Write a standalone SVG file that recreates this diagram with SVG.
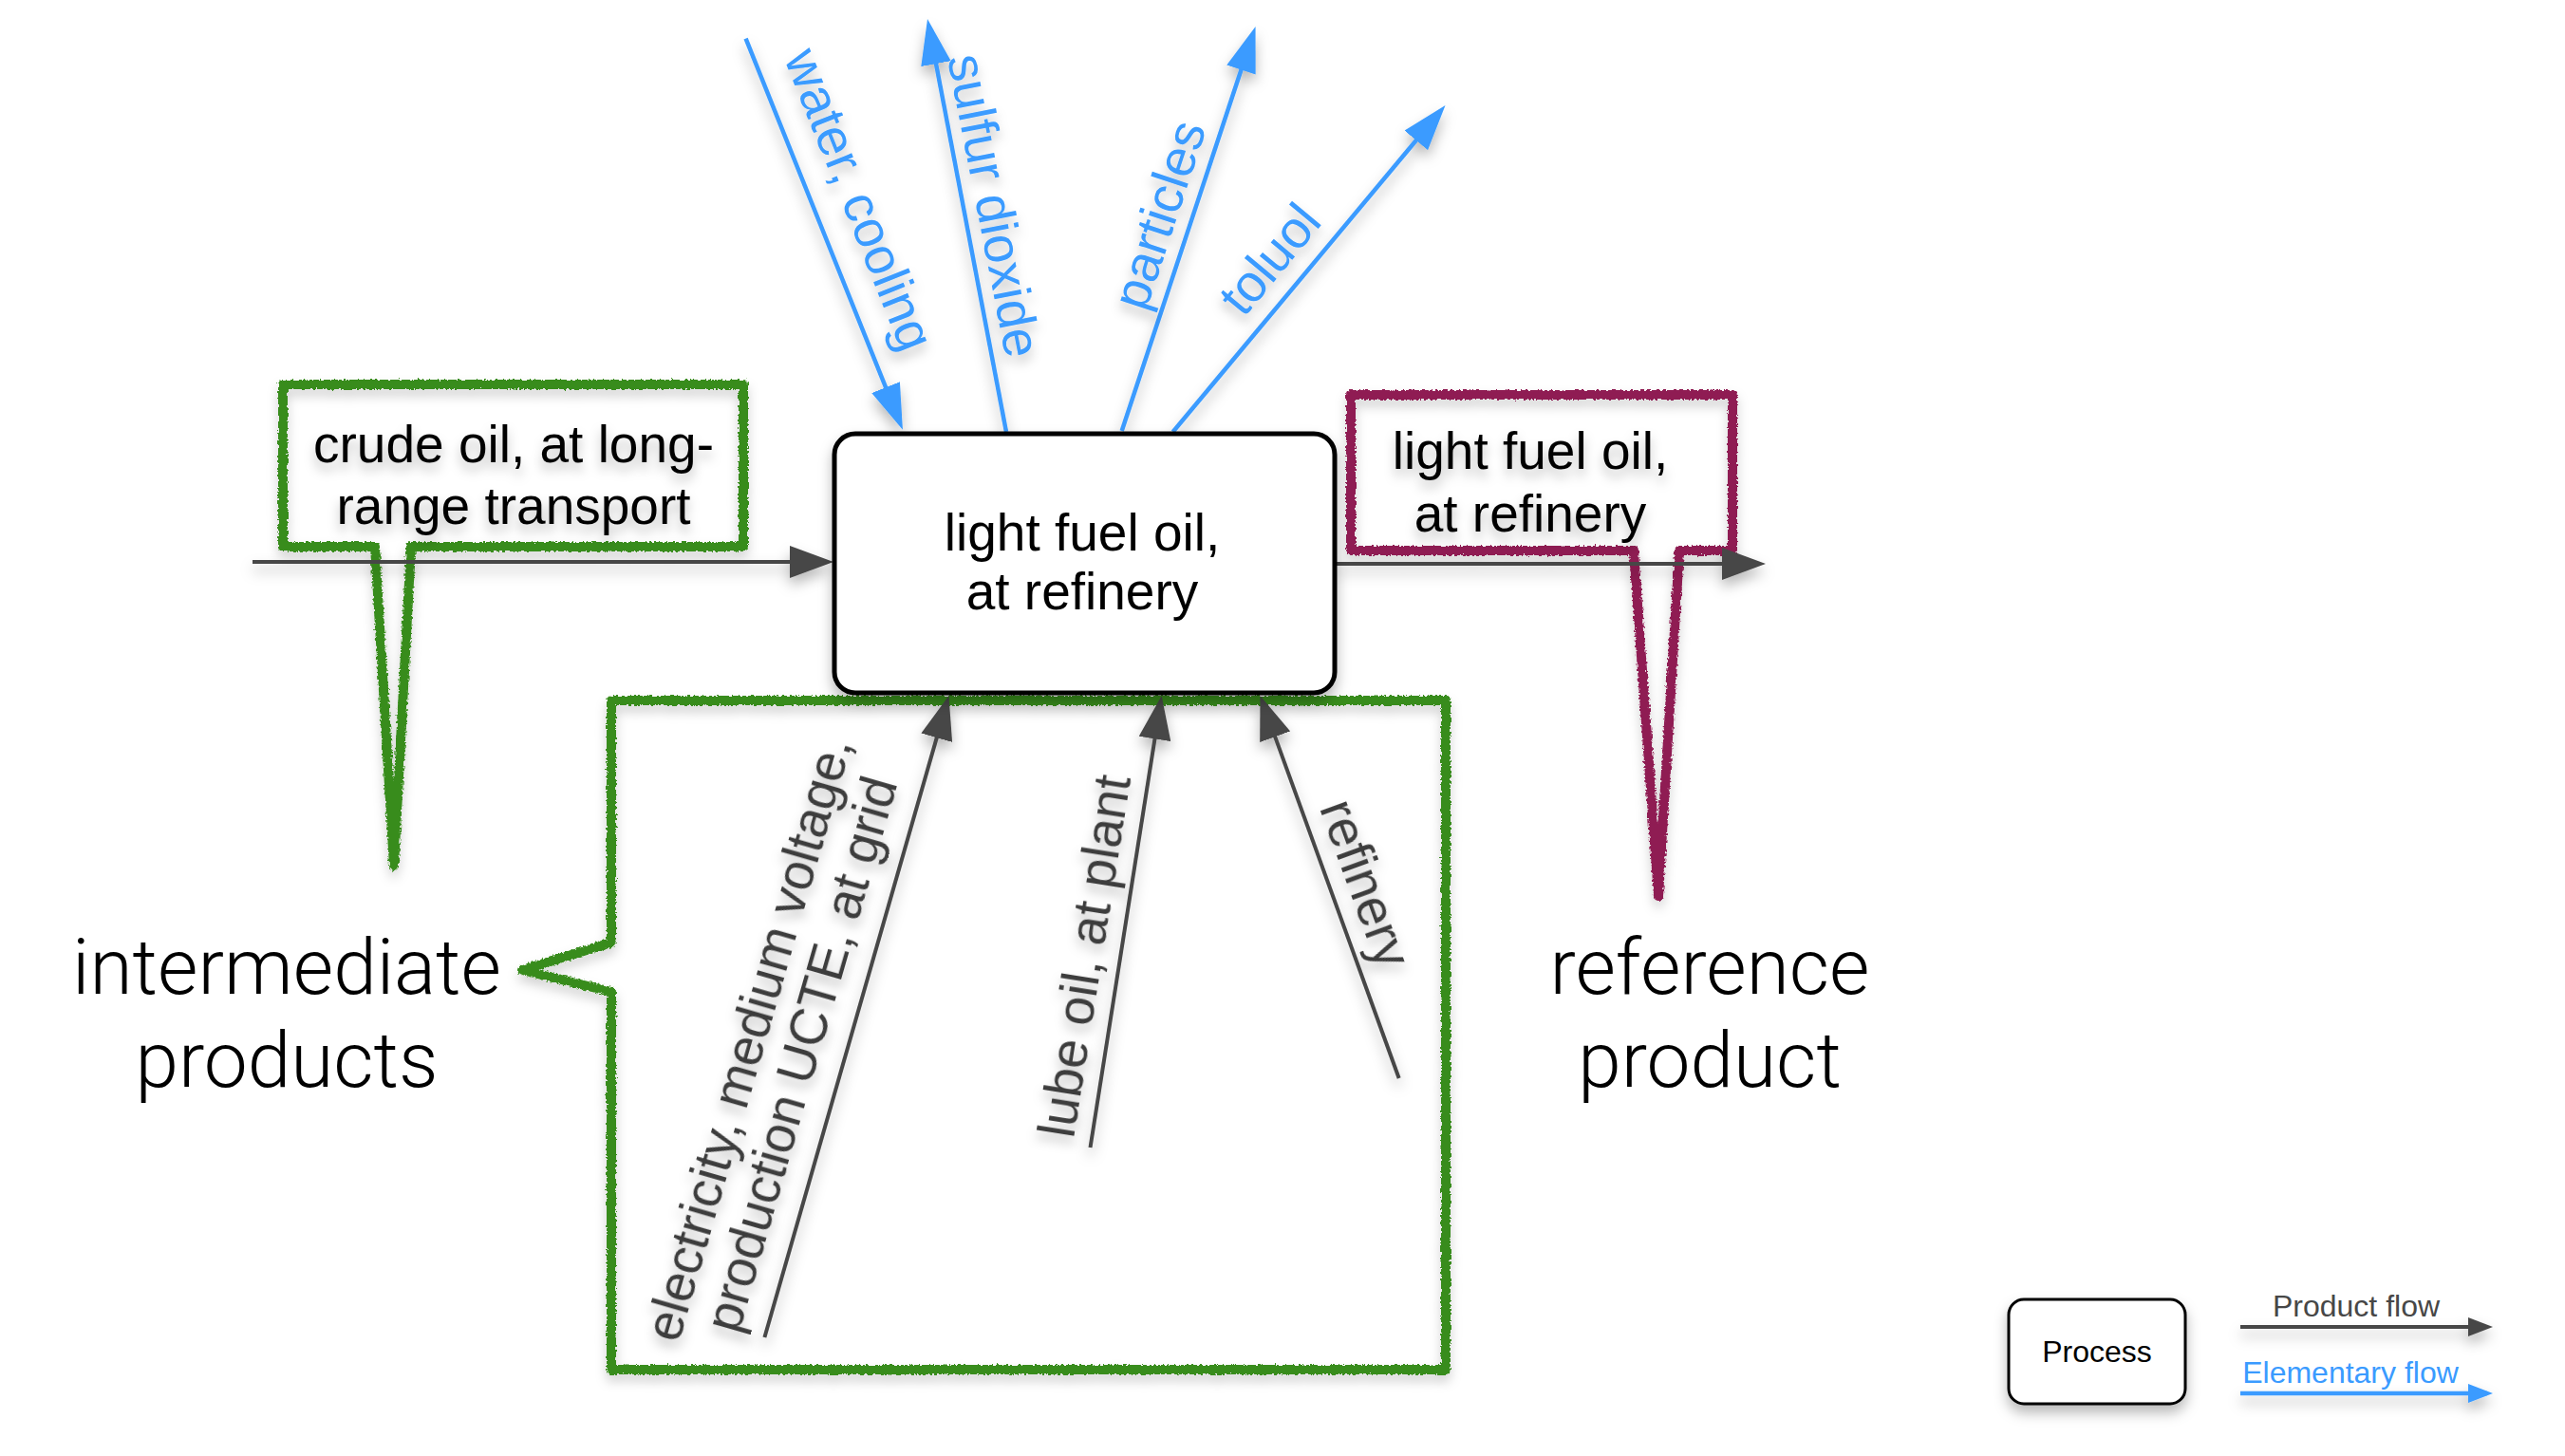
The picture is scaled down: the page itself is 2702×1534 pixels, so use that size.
<svg xmlns="http://www.w3.org/2000/svg" width="2702" height="1534" viewBox="0 0 2702 1534">
<style>
  text { font-family: "Liberation Sans", Arial, sans-serif; }
  .t55 { font-size: 55px; fill: #000; text-anchor: middle; }
  .gl { font-size: 55px; fill: #3c3c3c; text-anchor: middle; }
  .bl { font-size: 55px; fill: #3a9bff; text-anchor: middle; }
  .big { font-family: Roboto, "Liberation Sans", sans-serif; font-weight: 300; font-size: 82px; fill: #000; text-anchor: middle; }
  .leg { font-size: 32px; text-anchor: middle; }
  .prod { stroke: #474747; stroke-width: 4; fill: none; }
  .elem { stroke: #3a9bff; stroke-width: 4.5; fill: none; }
  .green { stroke: #378c1b; stroke-width: 10; fill: none; stroke-linejoin: round; stroke-linecap: round; }
  .mag { stroke: #8f1b52; stroke-width: 10; fill: none; stroke-linejoin: round; stroke-linecap: round; }
</style>
<defs>
  <marker id="hp" markerUnits="userSpaceOnUse" markerWidth="46" markerHeight="34" refX="36" refY="17" orient="auto">
    <path d="M0,0 L46,17 L0,34 z" fill="#474747"/>
  </marker>
  <marker id="he" markerUnits="userSpaceOnUse" markerWidth="48" markerHeight="32" refX="38" refY="16" orient="auto">
    <path d="M0,0 L48,16 L0,32 z" fill="#3a9bff"/>
  </marker>
  <marker id="hpS" markerUnits="userSpaceOnUse" markerWidth="26" markerHeight="20" refX="20" refY="10" orient="auto">
    <path d="M0,0 L26,10 L0,20 z" fill="#474747"/>
  </marker>
  <marker id="heS" markerUnits="userSpaceOnUse" markerWidth="26" markerHeight="20" refX="20" refY="10" orient="auto">
    <path d="M0,0 L26,10 L0,20 z" fill="#3a9bff"/>
  </marker>
  <filter id="sh" filterUnits="userSpaceOnUse" x="0" y="0" width="2702" height="1534">
    <feDropShadow dx="0" dy="8" stdDeviation="7" flood-color="#000" flood-opacity="0.28"/>
  </filter>
  <filter id="tsh" filterUnits="userSpaceOnUse" x="0" y="0" width="2702" height="1534">
    <feDropShadow dx="0" dy="8" stdDeviation="6" flood-color="#000" flood-opacity="0.25"/>
  </filter>
  <filter id="rough" filterUnits="userSpaceOnUse" x="0" y="0" width="2702" height="1534">
    <feTurbulence type="fractalNoise" baseFrequency="0.4" numOctaves="2" seed="3" result="n"/>
    <feDisplacementMap in="SourceGraphic" in2="n" scale="5" xChannelSelector="R" yChannelSelector="G" result="d"/>
    <feGaussianBlur in="d" stdDeviation="6" result="b"/>
    <feOffset in="b" dy="7" result="o"/>
    <feColorMatrix in="o" type="matrix" values="0 0 0 0 0  0 0 0 0 0  0 0 0 0 0  0 0 0 0.18 0" result="s"/>
    <feMerge><feMergeNode in="s"/><feMergeNode in="d"/></feMerge>
  </filter>
</defs>
<rect width="2702" height="1534" fill="#fff"/>

<g id="callout-intermediate">
  <path class="green" filter="url(#rough)" d="M644,738 L644,993 L550,1022 L644,1045 L644,1443 L1523,1443 L1523,738 Z"/>
</g>
<g id="callout-crude">
  <path class="green" filter="url(#rough)" d="M298,405 L783,405 L783,576 L433,576 L415,912 L395,576 L298,576 Z"/>
  <text class="t55" filter="url(#tsh)"><tspan x="541" y="487">crude oil, at long-</tspan><tspan x="541" y="552">range transport</tspan></text>
</g>
<g id="callout-reference">
  <path class="mag" filter="url(#rough)" d="M1423,416 L1825,416 L1825,580 L1769,580 L1747,944 L1721,580 L1423,580 Z"/>
  <text class="t55" filter="url(#tsh)"><tspan x="1612" y="494">light fuel oil,</tspan><tspan x="1612" y="560">at refinery</tspan></text>
</g>

<g id="connectors" filter="url(#sh)">
  <line class="prod" x1="266" y1="592" x2="868" y2="592" marker-end="url(#hp)"/>
  <line class="prod" x1="1406" y1="594" x2="1850" y2="594" marker-end="url(#hp)"/>
  <line class="prod" x1="805.4" y1="1409" x2="996.7" y2="742.6" marker-end="url(#hp)"/>
  <line class="prod" x1="1148.5" y1="1209" x2="1222.1" y2="742.9" marker-end="url(#hp)"/>
  <line class="prod" x1="1473.7" y1="1136" x2="1330.9" y2="742.4" marker-end="url(#hp)"/>
  <line class="elem" x1="785.6" y1="40.7" x2="947.2" y2="443.4" marker-end="url(#he)"/>
  <line class="elem" x1="1060" y1="455" x2="978.9" y2="29.8" marker-end="url(#he)"/>
  <line class="elem" x1="1181.7" y1="454" x2="1319.4" y2="37.5" marker-end="url(#he)"/>
  <line class="elem" x1="1235.6" y1="455" x2="1516.1" y2="118.7" marker-end="url(#he)"/>
  <line class="prod" stroke-width="3" x1="2360" y1="1398" x2="2620" y2="1398" marker-end="url(#hpS)"/>
  <line class="elem" stroke-width="3" x1="2360" y1="1468" x2="2620" y2="1468" marker-end="url(#heS)"/>
</g>

<g id="process">
  <rect x="879" y="457" width="527" height="273" rx="22" fill="#fff" stroke="#000" stroke-width="5" filter="url(#sh)"/>
  <text class="t55"><tspan x="1140" y="580">light fuel oil,</tspan><tspan x="1140" y="642">at refinery</tspan></text>
</g>

<g id="flow-labels" filter="url(#tsh)">
  <text class="bl" transform="translate(888,217) rotate(68.2)">water, cooling</text>
  <text class="bl" transform="translate(1029,220) rotate(79)">sulfur dioxide</text>
  <text class="bl" transform="translate(1239,232) rotate(-71.7)">particles</text>
  <text class="bl" transform="translate(1352,285) rotate(-50.3)">toluol</text>
  <text class="gl" transform="translate(834,1107.5) rotate(-73.9)"><tspan x="0" y="-28.7">electricity, medium voltage,</tspan><tspan x="0" y="28.7">production UCTE, at grid</tspan></text>
  <text class="gl" transform="translate(1161,1010) rotate(-81)">lube oil, at plant</text>
  <text class="gl" transform="translate(1421,937) rotate(70)">refinery</text>
</g>

<g id="label-intermediate">
  <text class="big"><tspan x="302" y="1047">intermediate</tspan><tspan x="302" y="1145">products</tspan></text>
</g>
<g id="label-reference">
  <text class="big"><tspan x="1801" y="1047">reference</tspan><tspan x="1801" y="1145">product</tspan></text>
</g>

<g id="legend">
  <rect x="2116" y="1369" width="186" height="110" rx="16" fill="#fff" stroke="#000" stroke-width="3" filter="url(#sh)"/>
  <text class="leg" x="2209" y="1435" fill="#000">Process</text>
  <text class="leg" x="2482" y="1387" fill="#474747">Product flow</text>
  <text class="leg" x="2476" y="1457" fill="#3a9bff">Elementary flow</text>
</g>
</svg>
